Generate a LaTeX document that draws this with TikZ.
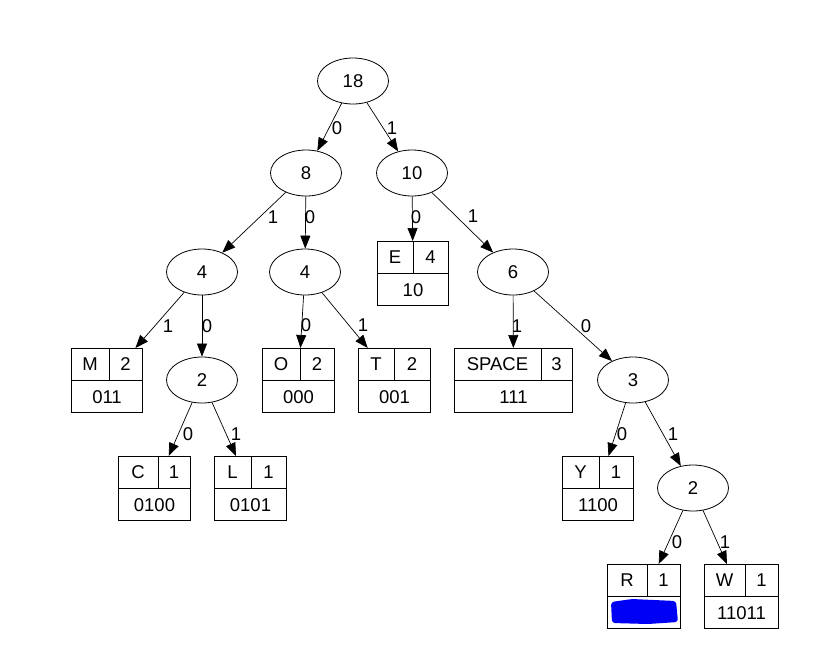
\documentclass[tikz,border=0pt]{standalone}
\usepackage{fontspec}
\setmainfont{Liberation Sans}
\usetikzlibrary{shapes.geometric, arrows.meta, calc}
\definecolor{smearblue}{HTML}{0000F5}

% leaf record: name, left, top, width, split, symbol, count, code
\newcommand{\leafrec}[8]{%
  \node[rec, minimum width=#4pt, anchor=north west] (#1) at (#2,#3) {};
  \draw[cellline] (#1.west) -- (#1.east);
  \draw[cellline] ([xshift=#5pt]#1.north west) -- ([xshift=#5pt]#1.west);
  \node[txt] (#1-sym) at ([xshift=#5pt/2, yshift=-16pt]#1.north west) {#6};
  \node[txt] (#1-cnt) at ([xshift={(#4+#5)*0.5pt}, yshift=-16pt]#1.north west) {#7};
  \node[txt] (#1-code) at ([yshift=16pt]#1.south) {#8};
}

\begin{document}
\begin{tikzpicture}[
    x=1pt, y=-1pt,
    font=\fontsize{18.5}{22}\selectfont,
    inner/.style={ellipse, draw, line width=0.8pt, minimum width=71pt, minimum height=46pt, inner sep=0pt},
    rec/.style={draw, line width=1pt, minimum height=64pt, inner sep=0pt},
    cellline/.style={line width=1pt},
    txt/.style={inner sep=0pt},
    lbl/.style={inner sep=0pt},
    arr/.style={-{Triangle[length=13pt, width=10pt]}, line width=0.7pt}
  ]
    \useasboundingbox (0,0) rectangle (837,670);

    % inner nodes
    \node[inner] (n18) at (353,81) {18};
    \node[inner] (n8) at (306,173) {8};
    \node[inner] (n10) at (412,173) {10};
    \node[inner] (n4a) at (202,272) {4};
    \node[inner] (n4b) at (305,272) {4};
    \node[inner] (n6) at (513,272) {6};
    \node[inner] (n2a) at (202,380) {2};
    \node[inner] (n3) at (633,380) {3};
    \node[inner] (n2b) at (693,488) {2};

    % leaves
    \leafrec{M}{71}{348}{71}{38}{M}{2}{011}
    \leafrec{E}{377}{241}{71}{36}{E}{4}{10}
    \leafrec{O}{262}{348}{72}{38}{O}{2}{000}
    \leafrec{T}{358}{348}{72}{36}{T}{2}{001}
    \leafrec{SP}{454}{348}{118}{87}{SPACE}{3}{111}
    \leafrec{C}{118}{456}{72}{40}{C}{1}{0100}
    \leafrec{L}{214}{456}{72}{37}{L}{1}{0101}
    \leafrec{Y}{562}{456}{71}{37}{Y}{1}{1100}
    \leafrec{R}{607}{564}{73}{40}{R}{1}{}
    \leafrec{W}{704}{564}{74}{41}{W}{1}{11011}

    % scribble over the code of R
    \fill[smearblue, rounded corners=3pt] (611,602) -- (632,599) -- (676,601) -- (678,622) -- (648,624) -- (612,623) -- cycle;

    % edges
    \draw[arr] (n18) -- (n8) node[lbl] at (337,128) {0};
    \draw[arr] (n18) -- (n10) node[lbl] at (392,128) {1};
    \draw[arr] (n8) -- (n4a) node[lbl] at (273,217) {1};
    \draw[arr] (n8) -- (n4b) node[lbl] at (310,217) {0};
    \draw[arr] (n10) -- (E) node[lbl] at (416,217) {0};
    \draw[arr] (n10) -- (n6) node[lbl] at (473,216) {1};
    \draw[arr] (n4a) -- (M) node[lbl] at (168,326) {1};
    \draw[arr] (n4a) -- (n2a) node[lbl] at (207,326) {0};
    \draw[arr] (n4b) -- (O) node[lbl] at (306,325) {0};
    \draw[arr] (n4b) -- (T) node[lbl] at (363,325) {1};
    \draw[arr] (n6) -- (SP) node[lbl] at (517,326) {1};
    \draw[arr] (n6) -- (n3) node[lbl] at (586,326) {0};
    \draw[arr] (n2a) -- (C) node[lbl] at (188,434) {0};
    \draw[arr] (n2a) -- (L) node[lbl] at (236,434) {1};
    \draw[arr] (n3) -- (Y) node[lbl] at (622,434) {0};
    \draw[arr] (n3) -- (n2b) node[lbl] at (673,434) {1};
    \draw[arr] (n2b) -- (R) node[lbl] at (677,542) {0};
    \draw[arr] (n2b) -- (W) node[lbl] at (725,542) {1};
\end{tikzpicture}
\end{document}
